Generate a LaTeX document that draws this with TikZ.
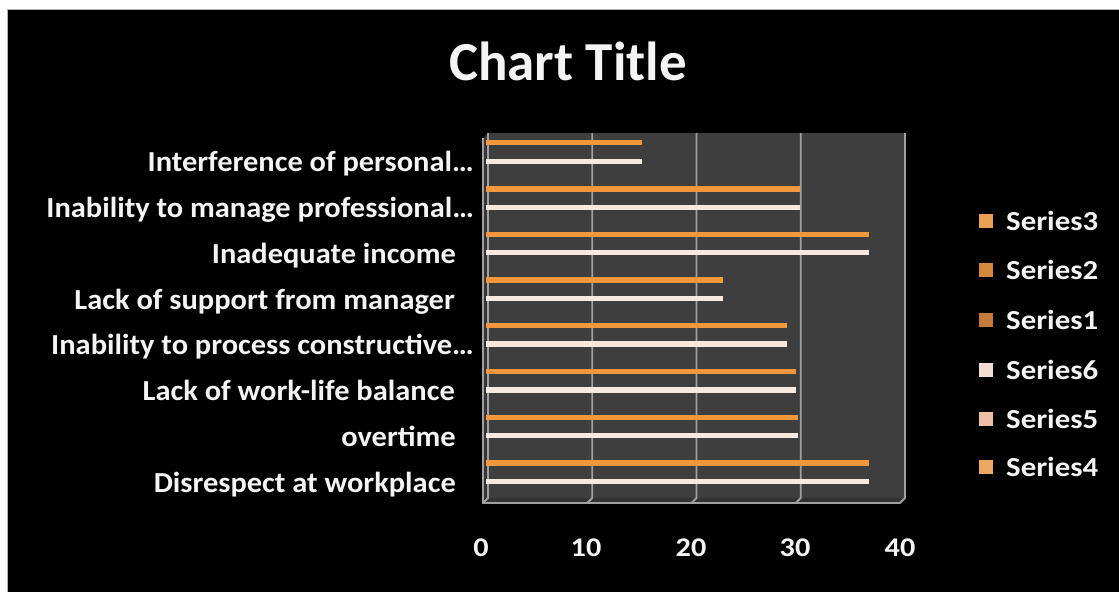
\documentclass[tikz,border=0pt]{standalone}
\usepackage{fontspec}
\setmainfont{Carlito}
\newfontfamily\catfont[FakeStretch=1.05]{Carlito}
\newfontfamily\legfont[FakeStretch=1.12]{Carlito}
\definecolor{barorange}{HTML}{F2973C}
\definecolor{barwhite}{HTML}{F8E9E0}
\definecolor{plotbg}{HTML}{3E3E3E}
\definecolor{gridc}{HTML}{A0A0A0}
\definecolor{txt}{HTML}{F4F4F4}
\definecolor{lgA}{HTML}{E9A255}
\definecolor{lgB}{HTML}{D4893F}
\definecolor{lgC}{HTML}{C47B3A}
\definecolor{lgD}{HTML}{F1DCD4}
\definecolor{lgE}{HTML}{EDBFA6}
\definecolor{lgF}{HTML}{ECA862}
\begin{document}
\begin{tikzpicture}[x=1pt,y=-1pt,
  catlbl/.style={text=txt,font=\catfont\bfseries\fontsize{29}{31}\selectfont,anchor=base east,inner sep=0pt},
  ticklbl/.style={text=txt,font=\legfont\bfseries\fontsize{27}{29}\selectfont,anchor=base,inner sep=0pt},
  leglbl/.style={text=txt,font=\legfont\bfseries\fontsize{27.5}{29}\selectfont,anchor=base west,inner sep=0pt},
  legmark/.style={minimum size=14pt,inner sep=0pt,draw=none},
  obar/.style={barorange,line width=5.5pt},
  wbar/.style={barwhite,line width=5.5pt},
  gridln/.style={gridc,line width=1.8pt}]
\useasboundingbox (0,0) rectangle (1119,592);
\fill[white] (0,0) rectangle (1119,592);
\fill[black] (7,9) rectangle (1119,592);
\draw[gray!60,line width=0.8pt] (7,592) -- (7,9) -- (1119,9);
% title
\node[text=txt,font=\bfseries\fontsize{55}{58}\selectfont,anchor=base,inner sep=0pt] (title) at (568,80) {Chart Title};
% plot area (3D-ish)
\fill[plotbg] (488,133) rectangle (905,498);
\fill[plotbg!85!black] (483,138) -- (488,133) -- (488,498) -- (483,503) -- cycle;
\fill[plotbg!80!black] (483,503) -- (488,498) -- (905,498) -- (900,503) -- cycle;
\draw[gridln] (483,138) -- (483,503) -- (900,503) -- (905,498) -- (905,133);
\foreach \gx in {488,592.25,696.5,800.75} {
  \draw[gridln] (\gx,133) -- (\gx,498) -- ++(-5,5);
}
% bars
\foreach \yo/\yw/\xe in {142.7/161.3/642, 189/207.3/800, 234.3/252.7/869, 280/298.3/722.5, 325.7/344/787, 371.7/390/796, 417.3/435.7/798, 463/481.3/869} {
  \draw[obar] (486,\yo) -- (\xe,\yo);
  \draw[wbar] (486,\yw) -- (\xe,\yw);
}
% category labels
\node[catlbl] (c1) at (474,171) {Interference of personal…};
\node[catlbl] (c2) at (474,217) {Inability to manage professional…};
\node[catlbl] (c3) at (456,263) {Inadequate income};
\node[catlbl] (c4) at (455,309) {Lack of support from manager};
\node[catlbl] (c5) at (474,354) {Inability to process constructive…};
\node[catlbl] (c6) at (455,400) {Lack of work-life balance};
\node[catlbl] (c7) at (456,446) {overtime};
\node[catlbl] (c8) at (456,492) {Disrespect at workplace};
% tick labels
\node[ticklbl] (t0) at (481,556) {0};
\node[ticklbl] (t1) at (586,556) {10};
\node[ticklbl] (t2) at (691,556) {20};
\node[ticklbl] (t3) at (795,556) {30};
\node[ticklbl] (t4) at (900,556) {40};
% legend
\foreach \ly/\lc/\lt [count=\i] in {221/lgA/Series3, 270/lgB/Series2, 320/lgC/Series1, 370/lgD/Series6, 419/lgE/Series5, 467/lgF/Series4} {
  \node[legmark,fill=\lc] (m\i) at (986,\ly) {};
  \node[leglbl] (l\i) at (1006,\ly+9) {\lt};
}
\end{tikzpicture}
\end{document}
